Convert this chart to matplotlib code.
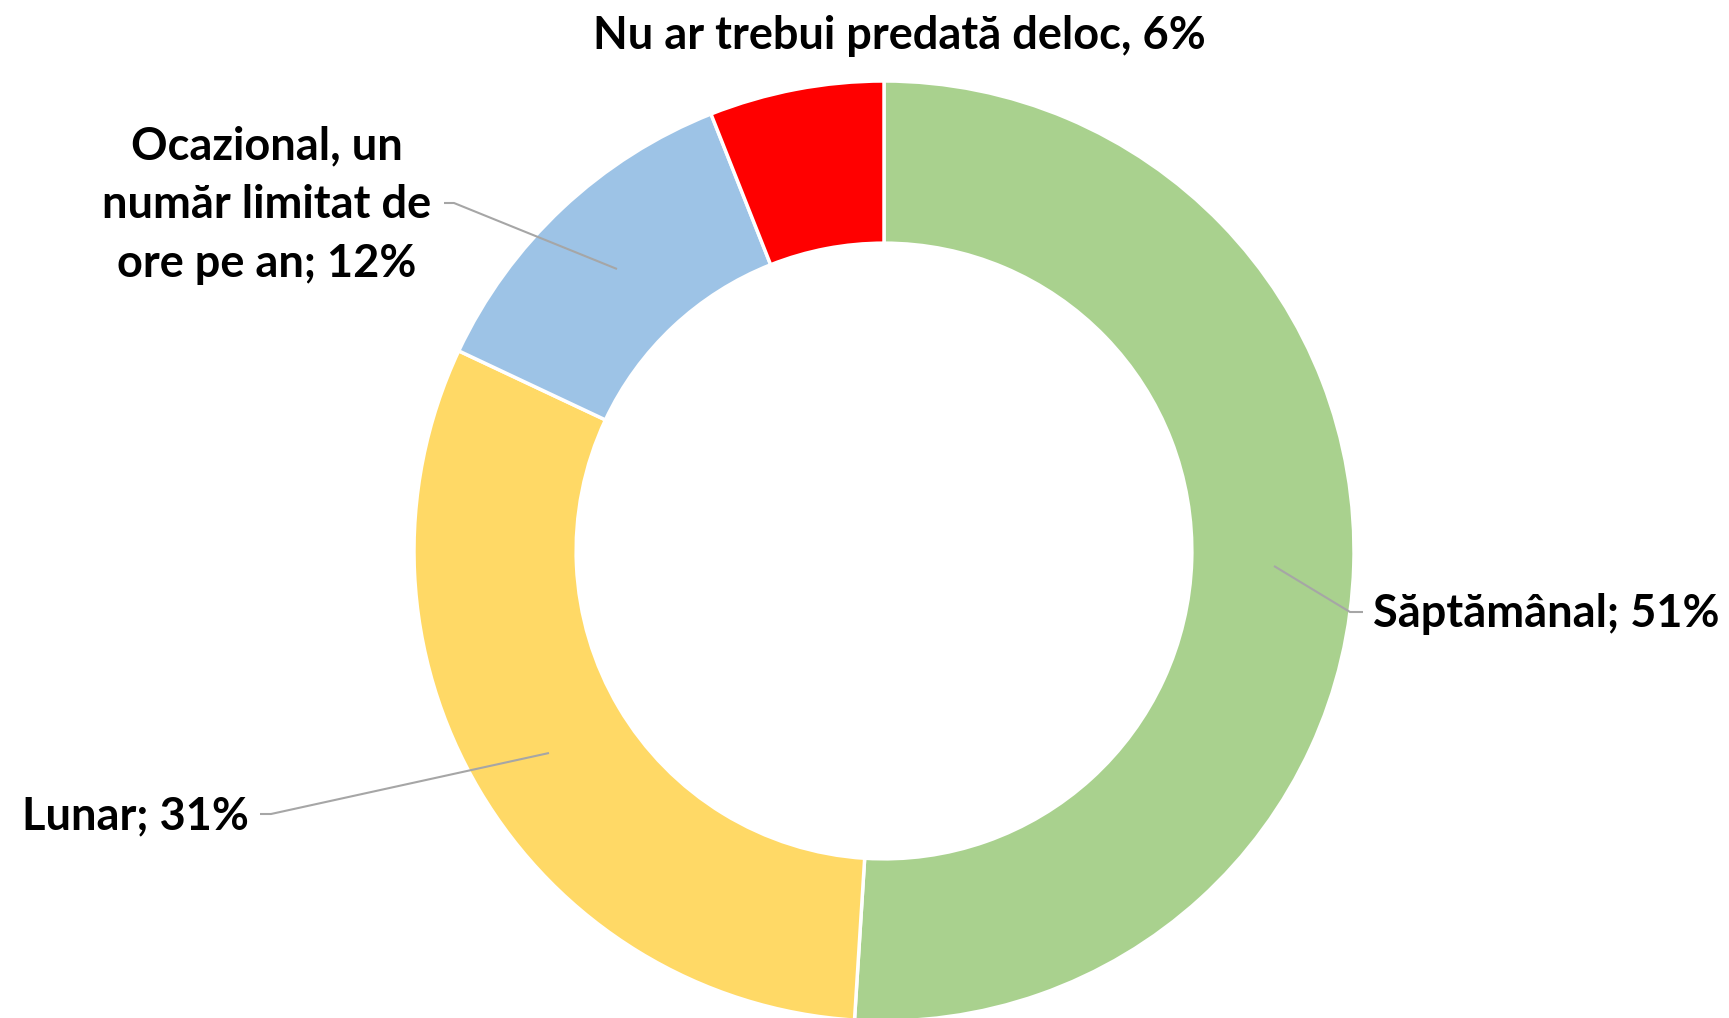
import matplotlib.pyplot as plt

# data
labels = ['Săptămânal; 51%', 'Lunar; 31%',
          'Ocazional, un\nnumăr limitat de\nore pe an; 12%',
          'Nu ar trebui predată deloc, 6%']
values = [51, 31, 12, 6]
colors = ['#A9D18E', '#FFD966', '#9DC3E6', '#FF0000']

W, H = 1729, 1018
fig = plt.figure(figsize=(W/100, H/100), dpi=100)
ax = fig.add_axes([0, 0, 1, 1])

cx, cy = 884, H - 551
r_out = 470
ring = 0.345

ax.pie(values, colors=colors, startangle=90, counterclock=False,
       center=(cx, cy), radius=r_out, frame=True,
       wedgeprops=dict(width=r_out*ring, edgecolor='white', linewidth=2.5))
ax.set_xlim(0, W)
ax.set_ylim(0, H)
ax.set_aspect('equal')
ax.axis('off')

font = dict(family=['Lato', 'DejaVu Sans'], fontweight='bold', fontsize=32.5, color='black')

# leader lines (pixel coords, y from top)
def leader(pts):
    xs = [p[0] for p in pts]
    ys = [H - p[1] for p in pts]
    ax.plot(xs, ys, color='#A6A6A6', lw=1.5, solid_capstyle='butt')

leader([(1363, 612), (1350, 612), (1274, 566)])
leader([(260, 814), (271, 814), (549, 753)])
leader([(444, 203), (454, 203), (617, 269)])

ax.text(1373, H - 614, labels[0], ha='left', va='center', **font)
ax.text(249, H - 816, labels[1], ha='right', va='center', **font)
ax.text(267, H - 205, labels[2], ha='center', va='center', linespacing=1.5, **font)
ax.text(899, H - 36, labels[3], ha='center', va='center', **font)

fig.savefig('out.png', dpi=100)
